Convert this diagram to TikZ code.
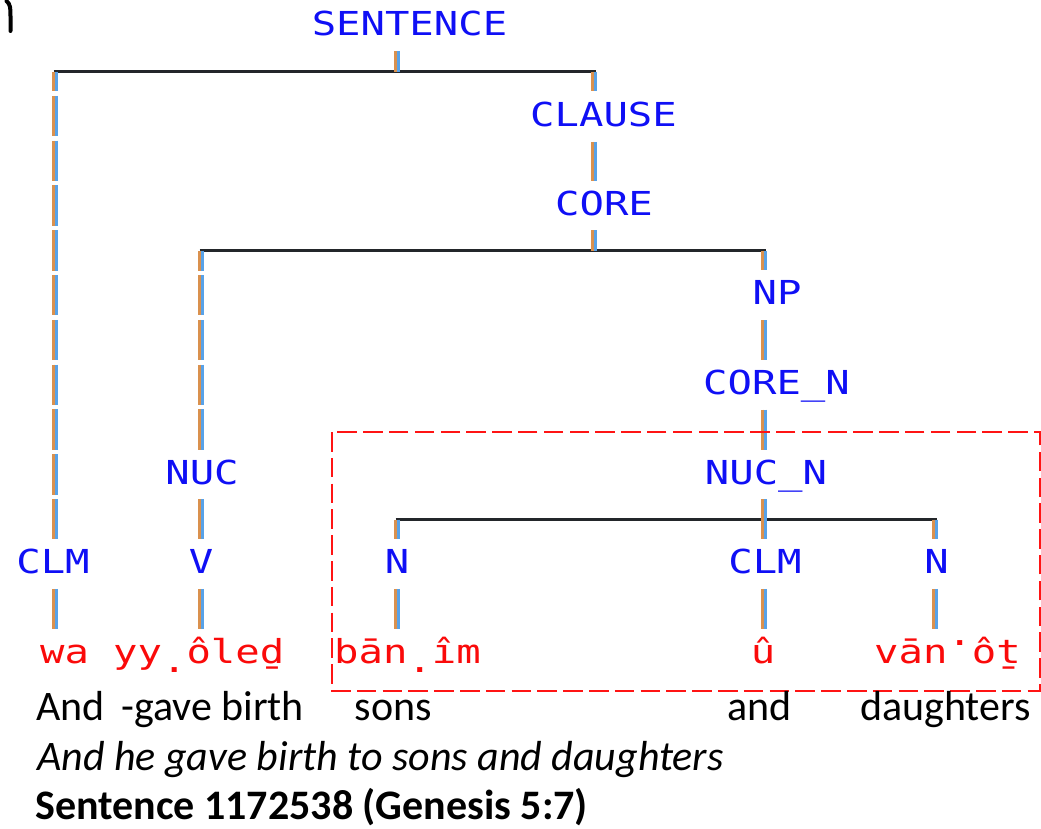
\documentclass[tikz,border=0pt]{standalone}
\usepackage{fontspec}
\setmainfont{Carlito}
\newfontfamily\monofnt[FakeStretch=1.23]{DejaVu Sans Mono}
\definecolor{labblue}{RGB}{15,15,245}
\definecolor{wred}{RGB}{250,10,10}
\definecolor{vorange}{RGB}{218,145,78}
\definecolor{vblue}{RGB}{88,162,232}
\definecolor{bardark}{RGB}{35,38,42}
\definecolor{boxred}{RGB}{255,20,20}
\tikzset{
 lab/.style={font=\monofnt\fontsize{33}{33}\selectfont, text=labblue, inner sep=0pt, text height=34.3pt, text depth=15pt, anchor=base},
 wrd/.style={font=\monofnt\fontsize{33}{33}\selectfont, text=wred, inner sep=0pt, text height=34.3pt, text depth=15pt},
 vl/.style={preaction={draw=vorange, line width=3pt, dash pattern=on 40.3pt off 4.5pt, dash phase=#1, transform canvas={xshift=-1.5pt}},
            postaction={draw=vblue, line width=3pt, dash pattern=on 40.3pt off 4.5pt, dash phase=#1, transform canvas={xshift=1.5pt}}},
 barl/.style={draw=bardark, line width=2.8pt, shorten <=-1.5pt, shorten >=-1.5pt},
 eng/.style={font=\fontsize{42}{42}\selectfont, text=black, inner sep=0pt, anchor=base west},
 redbox/.style={draw=boxred, line width=2pt, dash pattern=on 19.5pt off 6.3pt},
}
\begin{document}
\begin{tikzpicture}[x=1pt,y=-1pt]
\useasboundingbox (0,0) rectangle (1041,829);
% stray mark top-left
\draw[line width=4pt, line cap=round] (6.5,1) .. controls (10.5,4) and (10.5,9) .. (10.5,16) -- (10.5,31);
% columns and bar levels
\coordinate (cA) at (55,0);
\coordinate (cB) at (201,0);
\coordinate (cC) at (397,0);
\coordinate (cD) at (594,0);
\coordinate (cE) at (764,0);
\coordinate (cF) at (935,0);
\coordinate (b1) at (0,71.6);
\coordinate (b2) at (0,250.8);
\coordinate (b3) at (0,519.6);
% labels
\node[lab] (sent)   at (409.5,36)    {SENTENCE};
\node[lab] (clause) at (603.5,126.6) {CLAUSE};
\node[lab] (core)   at (604,215.2)   {CORE};
\node[lab] (np)     at (777,304.8)   {NP};
\node[lab] (coren)  at (776.5,394.4) {CORE\_N};
\node[lab] (nuc)    at (202,484)     {NUC};
\node[lab] (nucn)   at (766,484)     {NUC\_N};
\node[lab] (clmA)   at (53,573.6)    {CLM};
\node[lab] (v)      at (201,573.6)   {V};
\node[lab] (nA)     at (397,573.6)   {N};
\node[lab] (clmB)   at (765,573.6)   {CLM};
\node[lab] (nB)     at (936.5,573.6) {N};
% words
\node[wrd, anchor=base west] (w1a) at (40,663.2)  {wa};
\node[wrd, anchor=base west] (w1b) at (113,663.2) {yy\raisebox{-9pt}{.}ôleḏ};
\node[wrd, anchor=base west] (w2)  at (334,663.2) {bān\raisebox{-9pt}{.}îm};
\node[wrd, anchor=base]      (w3)  at (763,663.2) {û};
\node[wrd, anchor=base west] (w4)  at (874,663.2) {vān\raisebox{18pt}{.}ôṯ};
% bars
\draw[barl] (cA |- b1) -- (cD |- b1);
\draw[barl] (cB |- b2) -- (cE |- b2);
\draw[barl] (cC |- b3) -- (cF |- b3);
% vertical connectors
\path[vl=0pt]    (cC |- sent.south) -- (cC |- b1);
\path[vl=20.6pt] (cA |- b1) -- (cA |- clmA.north);
\path[vl=20.6pt] (cD |- b1) -- (cD |- clause.north);
\path[vl=0pt]    (cD |- clause.south) -- (cD |- core.north);
\path[vl=0pt]    (cD |- core.south) -- (cD |- b2);
\path[vl=20.6pt] (cB |- b2) -- (cB |- nuc.north);
\path[vl=0pt]    (cB |- nuc.south) -- (cB |- v.north);
\path[vl=20.6pt] (cE |- b2) -- (cE |- np.north);
\path[vl=0pt]    (cE |- np.south) -- (cE |- coren.north);
\path[vl=0pt]    (cE |- coren.south) -- (cE |- nucn.north);
\path[vl=0pt]    (cE |- nucn.south) -- (cE |- clmB.north);
\path[vl=20.6pt] (cC |- b3) -- (cC |- nA.north);
\path[vl=20.6pt] (cF |- b3) -- (cF |- nB.north);
\path[vl=0pt]    (cA |- clmA.south) -- (cA |- w1a.north);
\path[vl=0pt]    (cB |- v.south) -- (cB |- w1b.north);
\path[vl=0pt]    (cC |- nA.south) -- (cC |- w2.north);
\path[vl=0pt]    (cE |- clmB.south) -- (cE |- w3.north);
\path[vl=0pt]    (cF |- nB.south) -- (cF |- w4.north);
% red dashed box
\draw[redbox] (332,432) rectangle (1040,691);
% English glosses
\node[eng] (g1) at (36,720)  {And};
\node[eng] (g2) at (121,720) {-gave birth};
\node[eng] (g3) at (354.5,720) {sons};
\node[eng] (g4) at (727,720) {and};
\node[eng] (g5) at (860,720) {daughters};
\node[eng] (trans) at (37,770) {\itshape And he gave birth to sons and daughters};
\node[eng] (title) at (35,819) {\bfseries Sentence 1172538 (Genesis 5:7)};
\end{tikzpicture}
\end{document}
